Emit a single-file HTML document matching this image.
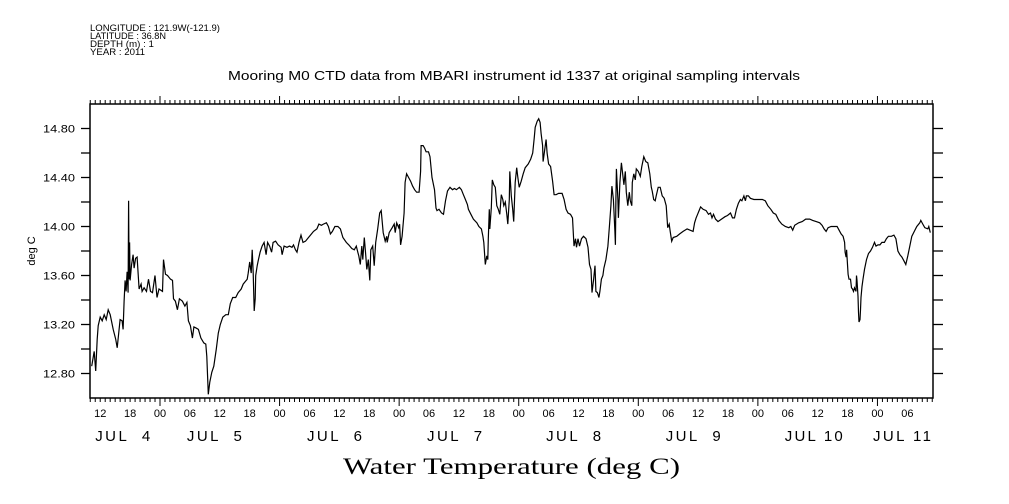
<!DOCTYPE html>
<html><head><meta charset="utf-8">
<style>
html,body{margin:0;padding:0;background:#fff;}
svg{display:block;}
text{font-family:"Liberation Sans",sans-serif;fill:#000;}
</style></head>
<body>
<svg id="chart" width="1009" height="504" viewBox="0 0 1009 504" xmlns="http://www.w3.org/2000/svg">
  <g>
    <text x="90" y="31" font-size="9" textLength="130" lengthAdjust="spacingAndGlyphs">LONGITUDE : 121.9W(-121.9)</text>
    <text x="90" y="39" font-size="9" textLength="76" lengthAdjust="spacingAndGlyphs">LATITUDE : 36.8N</text>
    <text x="90" y="47" font-size="9" textLength="64" lengthAdjust="spacingAndGlyphs">DEPTH (m) : 1</text>
    <text x="90" y="55" font-size="9" textLength="55" lengthAdjust="spacingAndGlyphs">YEAR : 2011</text>
  </g>
  <text x="228" y="80" font-size="12.5" textLength="572" lengthAdjust="spacingAndGlyphs">Mooring M0 CTD data from MBARI instrument id 1337 at original sampling intervals</text>
  <text transform="translate(35,251) rotate(-90)" font-size="11" text-anchor="middle">deg C</text>
  <text x="343" y="474" font-size="23" textLength="337" lengthAdjust="spacingAndGlyphs" style="font-family:'Liberation Serif',serif">Water Temperature (deg C)</text>
  <g id="axes"></g>
  <g id="series"></g>
</svg>
<script>
// hours since 2011-07-04 00:00
const hours = [10.3,10.8,11.1,11.4,11.6,12.0,12.4,12.8,13.2,13.6,14.0,14.6,15.1,15.4,16.0,16.4,16.6,16.8,17.0,17.2,17.4,17.6,17.7,17.8,17.9,18.0,18.3,18.6,18.8,19.1,19.4,19.8,20.2,20.4,20.8,21.3,21.7,22.1,22.5,23.0,23.4,23.8,24.5,24.7,25.1,25.5,26.1,26.5,26.7,27.1,27.5,27.9,28.5,29.0,29.4,29.7,30.1,30.5,30.8,31.3,31.7,32.2,32.8,33.2,33.4,33.7,34.0,34.4,34.8,35.3,35.7,36.1,36.6,37.2,37.7,38.1,38.6,39.2,39.7,40.3,40.7,41.1,41.5,41.7,42.0,42.3,42.5,42.7,42.9,43.1,43.2,43.5,43.7,44.1,44.5,44.9,45.3,45.6,46.0,46.4,46.7,47.2,47.7,48.3,48.5,48.9,49.5,50.0,50.5,50.8,51.2,51.5,51.9,52.3,52.7,53.2,53.8,54.4,54.8,55.5,55.9,56.4,56.8,57.4,57.8,58.2,58.6,59.1,59.7,60.2,60.7,61.4,61.9,62.5,63.0,63.4,63.7,63.9,64.2,64.5,64.7,65.0,65.3,65.5,65.8,66.1,66.3,66.7,67.0,67.3,67.7,68.1,68.4,68.8,69.2,69.5,69.6,70.0,70.6,71.0,71.2,71.5,71.9,72.1,72.3,72.6,73.0,73.2,73.5,73.9,74.3,74.7,75.1,75.5,76.0,76.3,76.4,76.8,77.1,77.4,77.9,78.2,78.6,78.8,79.1,79.4,79.6,80.0,80.5,80.9,81.3,81.7,82.2,82.7,83.1,83.5,84.1,84.5,84.9,85.3,85.7,85.9,86.4,86.9,87.6,88.0,88.5,88.8,89.0,89.3,89.6,89.8,89.9,90.1,90.2,90.5,90.7,91.0,91.3,91.6,91.9,92.2,92.5,92.8,93.0,93.3,93.6,93.8,94.1,94.2,94.5,94.8,95.0,95.3,95.6,95.8,96.1,96.5,96.9,97.3,97.9,98.4,98.8,99.1,99.3,99.7,100.0,100.3,100.5,100.8,100.9,101.2,101.5,101.7,102.0,102.4,102.8,103.1,103.5,104.0,104.7,105.1,105.5,105.9,106.4,106.8,107.1,107.4,107.6,107.9,108.2,108.6,109.0,109.5,109.9,110.2,110.5,110.7,111.0,111.3,111.5,111.8,112.1,112.3,112.6,112.9,113.1,113.5,113.9,114.2,114.5,114.7,115.0,115.3,115.4,115.5,115.6,115.9,116.0,116.3,116.6,116.8,117.1,117.4,117.6,117.9,118.2,118.4,118.7,118.8,119.1,119.4,119.6,120.0,120.4,120.7,121.1,121.5,121.9,122.3,122.6,122.8,123.1,123.4,123.6,124.0,124.4,124.8,125.2,125.6,125.9,126.2,126.4,126.7,127.0,127.7,128.3,129.0,129.8,130.4,131.0,131.3,131.6,131.9,132.2,132.5,133.0,133.6,134.1,134.5,134.8,135.1,135.5,136.0,136.7,137.4,137.9,138.5,138.9,139.3,139.7,140.1,140.5,140.8,141.2,141.5,141.7,142.1,142.5,143.2,143.6,144.3,144.9,145.5,146.0,146.6,147.1,147.6,148.2,148.8,149.5,150.2,150.6,151.0,151.4,152.2,152.9,153.6,154.4,155.0,155.7,156.4,156.9,157.3,157.7,158.1,158.7,159.4,159.9,160.3,160.7,161.1,161.4,161.5,161.7,161.8,162.1,162.3,162.6,162.8,163.0,163.2,163.4,163.7,163.8,163.9,164.1,164.2,164.3,164.5,164.6,164.7,164.9,165.1,165.4,165.8,166.2,166.6,167.0,167.4,167.7,168.1,168.5,168.9,169.4,169.8,170.2,170.8,171.3,171.7,172.1,172.5,172.9,173.3,173.7,174.1,174.5,174.9,175.4,175.9,176.5,176.7,177.1,177.5,178.1,178.3,178.6];
const temps = [12.86,12.98,12.82,13.08,13.19,13.26,13.23,13.28,13.24,13.32,13.28,13.16,13.08,13.01,13.24,13.23,13.16,13.39,13.56,13.47,13.63,13.46,14.21,13.57,13.87,13.56,13.69,13.77,13.66,13.74,13.75,13.49,13.53,13.47,13.50,13.47,13.57,13.47,13.46,13.60,13.42,13.49,13.47,13.73,13.61,13.60,13.57,13.56,13.41,13.39,13.32,13.41,13.39,13.35,13.38,13.23,13.19,13.09,13.18,13.17,13.16,13.09,13.05,13.04,12.94,12.63,12.73,12.81,12.86,13.00,13.13,13.20,13.26,13.28,13.28,13.37,13.42,13.42,13.46,13.49,13.53,13.55,13.57,13.62,13.71,13.62,13.81,13.62,13.31,13.41,13.60,13.68,13.72,13.79,13.84,13.87,13.77,13.87,13.84,13.79,13.87,13.88,13.85,13.83,13.77,13.84,13.83,13.84,13.83,13.85,13.81,13.79,13.87,13.93,13.87,13.88,13.91,13.94,13.96,13.98,14.02,14.01,14.02,14.03,14.00,13.94,13.96,14.00,14.00,13.98,13.91,13.87,13.85,13.82,13.81,13.84,13.79,13.76,13.69,13.84,13.73,13.91,13.76,13.65,13.73,13.56,13.81,13.84,13.68,13.87,13.98,14.11,14.13,13.95,13.88,13.92,13.87,13.95,13.99,14.02,13.95,14.03,13.99,14.02,13.85,13.92,14.11,14.36,14.43,14.40,14.37,14.33,14.30,14.28,14.28,14.45,14.66,14.66,14.64,14.61,14.61,14.57,14.40,14.36,14.30,14.15,14.13,14.14,14.11,14.10,14.21,14.29,14.32,14.30,14.31,14.30,14.32,14.30,14.26,14.22,14.18,14.14,14.10,14.06,14.03,14.00,13.98,13.92,13.87,13.69,13.76,13.73,13.90,14.14,13.98,14.15,14.38,14.34,14.32,14.17,14.14,14.10,14.26,14.22,14.17,14.20,14.10,14.02,14.22,14.45,14.25,14.14,14.04,14.36,14.48,14.41,14.32,14.37,14.43,14.48,14.51,14.55,14.60,14.72,14.81,14.86,14.88,14.85,14.76,14.66,14.53,14.62,14.71,14.60,14.51,14.49,14.37,14.26,14.26,14.27,14.27,14.22,14.14,14.11,14.10,14.07,13.84,13.90,13.83,13.90,13.84,13.90,13.92,13.90,13.83,13.69,13.65,13.46,13.56,13.68,13.47,13.46,13.42,13.47,13.57,13.60,13.66,13.73,13.84,14.00,14.17,14.33,14.22,13.96,13.85,14.22,14.47,14.22,14.07,14.36,14.52,14.45,14.34,14.45,14.28,14.17,14.28,14.21,14.17,14.36,14.43,14.38,14.47,14.45,14.41,14.49,14.57,14.53,14.52,14.43,14.32,14.29,14.22,14.21,14.25,14.32,14.32,14.25,14.23,14.17,13.99,14.02,13.96,13.88,13.91,13.92,13.94,13.96,13.98,13.97,13.96,14.03,14.07,14.10,14.13,14.16,14.14,14.13,14.10,14.11,14.07,14.10,14.06,14.04,14.06,14.08,14.09,14.11,14.07,14.07,14.14,14.19,14.22,14.21,14.25,14.21,14.25,14.25,14.23,14.22,14.22,14.22,14.22,14.21,14.17,14.14,14.11,14.10,14.05,14.02,14.00,13.99,14.00,13.97,14.01,14.03,14.04,14.06,14.06,14.05,14.04,14.03,14.01,13.98,13.96,13.99,14.00,14.00,14.00,13.97,13.94,13.92,13.87,13.79,13.75,13.81,13.61,13.57,13.57,13.50,13.49,13.47,13.50,13.47,13.60,13.56,13.43,13.30,13.22,13.24,13.32,13.42,13.51,13.57,13.65,13.73,13.78,13.80,13.83,13.87,13.84,13.85,13.85,13.87,13.87,13.90,13.92,13.92,13.93,13.90,13.80,13.77,13.75,13.72,13.69,13.76,13.84,13.92,13.96,14.00,14.03,14.05,14.02,13.99,13.98,14.00,13.95];
const yTickValues = [12.6,12.8,13.0,13.2,13.4,13.6,13.8,14.0,14.2,14.4,14.6,14.8,15.0];
const yTickLabels = ["12.80","13.20","13.60","14.00","14.40","14.80"];
const yLabelValues = [12.8,13.2,13.6,14.0,14.4,14.8];
const hourLabelHours = [12,18,24,30,36,42,48,54,60,66,72,78,84,90,96,102,108,114,120,126,132,138,144,150,156,162,168,174];
const hourLabels = ["12","18","00","06","12","18","00","06","12","18","00","06","12","18","00","06","12","18","00","06","12","18","00","06","12","18","00","06"];
const dateLabels = ["JUL  4","JUL  5","JUL  6","JUL  7","JUL  8","JUL  9","JUL 10","JUL 11"];
const dateLabelHours = [11.0,29.4,53.5,77.6,101.5,125.5,149.4,167.1];

const X0=90, X1=933, Y0=104, Y1=398;
const H0=9.95, H1=179.15, V0=12.6, V1=15.0;
function xs(h){return X0+(h-H0)/(H1-H0)*(X1-X0);}
function ys(v){return Y1-(v-V0)/(V1-V0)*(Y1-Y0);}
const NS="http://www.w3.org/2000/svg";
const axes=document.getElementById('axes');
const series=document.getElementById('series');
function line(x1,y1,x2,y2,parent,w){
  const l=document.createElementNS(NS,'line');
  l.setAttribute('x1',x1);l.setAttribute('y1',y1);l.setAttribute('x2',x2);l.setAttribute('y2',y2);
  l.setAttribute('stroke','#000');l.setAttribute('stroke-width',w||'1.3');
  parent.appendChild(l);return l;
}
const frame=document.createElementNS(NS,'rect');
frame.setAttribute('x',X0);frame.setAttribute('y',Y0);frame.setAttribute('width',X1-X0);frame.setAttribute('height',Y1-Y0);
frame.setAttribute('fill','none');frame.setAttribute('stroke','#000');frame.setAttribute('stroke-width','1.5');


axes.appendChild(frame);
yTickValues.forEach(v=>{
  const y=ys(v);
  if(y<Y0+1||y>Y1-1) return;
  const a=line(X0-9,y,X0,y,axes);
  
  
  const b=line(X1,y,X1+10,y,axes);
  
  
});
yLabelValues.forEach((v,i)=>{
  const t=document.createElementNS(NS,'text');
  t.setAttribute('x',43);t.setAttribute('y',ys(v)+4);t.setAttribute('font-size','11');
  t.setAttribute('textLength','32');t.setAttribute('lengthAdjust','spacingAndGlyphs');
  t.textContent=yTickLabels[i];
  
  
  axes.appendChild(t);
});
for(let h=10;h<=179;h+=1){
  const x=xs(h); const major=(h%24===0);
  const len=major?8:4;
  const a=line(x,Y0,x,Y0-len,axes,1);
  
  
  const b=line(x,Y1,x,Y1+len,axes,1);
  
  
}
hourLabelHours.forEach((h,i)=>{
  const t=document.createElementNS(NS,'text');
  t.setAttribute('x',xs(h));t.setAttribute('y',417);t.setAttribute('text-anchor','middle');t.setAttribute('font-size','11');
  t.textContent=hourLabels[i];
  
  
  axes.appendChild(t);
});
dateLabels.forEach((d,i)=>{
  const t=document.createElementNS(NS,'text');
  t.setAttribute('x',xs(dateLabelHours[i]));t.setAttribute('y',441);t.setAttribute('font-size','15');
  t.setAttribute('style','white-space:pre');t.setAttribute('xml:space','preserve');
  t.setAttribute('textLength', d.indexOf('1')>=4 && d.length===6 && d.charAt(4)==='1' ? '58' : '55');
  t.setAttribute('lengthAdjust','spacing');
  t.textContent=d;
  
  
  axes.appendChild(t);
});
const p=document.createElementNS(NS,'polyline');
p.setAttribute('points',hours.map((h,i)=>xs(h).toFixed(1)+','+ys(temps[i]).toFixed(1)).join(' '));
p.setAttribute('fill','none');p.setAttribute('stroke','#000');p.setAttribute('stroke-width','1.2');


series.appendChild(p);
</script>
</body></html>
